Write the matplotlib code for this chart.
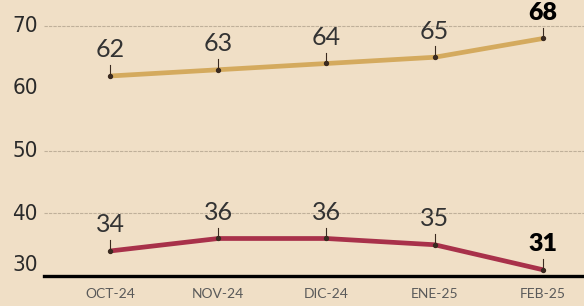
import matplotlib
matplotlib.use("Agg")
import matplotlib.pyplot as plt
import matplotlib.transforms as mtransforms

# data
meses = ["OCT-24", "NOV-24", "DIC-24", "ENE-25", "FEB-25"]
serie_alta = [62, 63, 64, 65, 68]
serie_baja = [34, 36, 36, 35, 31]
y_ticks = [30, 40, 50, 60, 70]
grid_vals = [40, 50, 70]

bg = "#F0DFC6"
gold = "#D4AA5E"
red = "#A8314A"

fig = plt.figure(figsize=(5.84, 3.06), dpi=100, facecolor=bg)
ax = fig.add_axes([44 / 584, 1 - 276 / 306, 1 - 44 / 584, 276 / 306])
ax.set_facecolor(bg)

x = list(range(len(meses)))
ax.set_xlim(-0.61, 4.38)
ax.set_ylim(30, 74.16)

for g in grid_vals:
    ax.axhline(g, color="#BFB09A", lw=0.8, ls=(0, (3, 1)), zorder=1)
ax.axhline(30, color="black", lw=2.4, zorder=5, clip_on=False)

for serie, col in ((serie_alta, gold), (serie_baja, red)):
    ax.plot(x, serie, color=col, lw=3.4, solid_capstyle="butt", zorder=3)
    ax.scatter(x, serie, s=8, color="#3a2a20", zorder=4)
    for i, v in enumerate(serie):
        ax.plot([i, i], [v, v + 1.75], color="#3a2a20", lw=0.8, zorder=4)
        last = i == len(serie) - 1
        ax.annotate(str(v), (i, v), xytext=(0, 10.5), textcoords="offset points",
                    ha="center", va="bottom", fontsize=18,
                    fontweight="heavy" if last else "normal",
                    family="Lato", color="black" if last else "#333333",
                    zorder=6)

for sp in ax.spines.values():
    sp.set_visible(False)

ax.set_xticks(x)
ax.set_xticklabels(meses, fontsize=10, color="#5a5a5a", family="Lato")
ax.tick_params(axis="x", length=0, pad=9)

# y labels drawn by hand so the "30" can sit above the base line
ax.set_yticks([])
lab_tr = mtransforms.blended_transform_factory(fig.transFigure, ax.transData)
for t in y_ticks:
    shift = 11 / 100 if t == 30 else 0
    tr = lab_tr + mtransforms.ScaledTranslation(0, shift, fig.dpi_scale_trans)
    ax.text(38 / 584, t, str(t), transform=tr, ha="right", va="center",
            fontsize=16, family="DejaVu Sans", fontstretch="condensed",
            color="#2a2a2a")

fig.savefig("out.png", dpi=100, facecolor=bg)
